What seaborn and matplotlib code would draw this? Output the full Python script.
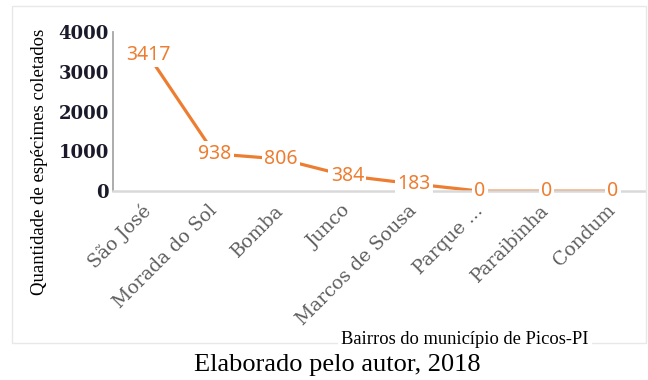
import matplotlib
matplotlib.use("Agg")
import matplotlib.pyplot as plt
from matplotlib.patches import Rectangle
import seaborn as sns
import pandas as pd

# data
bairros = ["São José", "Morada do Sol", "Bomba", "Junco", "Marcos de Sousa",
           "Parque ...", "Paraibinha", "Condum"]
quantidade = [3417, 938, 806, 384, 183, 0, 0, 0]
y_ticks = [0, 1000, 2000, 3000, 4000]

orange = "#ED7D31"

sns.set_theme(style="white")
plt.rcParams["font.family"] = ["DejaVu Sans"]

df = pd.DataFrame({"pos": range(len(bairros)), "bairro": bairros, "qtd": quantidade})

fig = plt.figure(figsize=(6.48, 3.80), dpi=100)
fig.patch.set_facecolor("white")
ax = fig.add_axes([0.1744, 0.497, 0.8206, 0.419])

sns.lineplot(data=df, x="pos", y="qtd", sort=False, color=orange, linewidth=2.3, ax=ax, zorder=2)

# value labels on the points, white box hides the line under them
for i, v in enumerate(quantidade):
    ax.text(i, v, str(v), ha="center", va="center", color=orange, fontsize=14,
            family="Noto Sans", fontweight="semibold", zorder=5,
            bbox=dict(boxstyle="square,pad=0.12", fc="white", ec="none"))

ax.set_xlim(-0.53, 7.48)
ax.set_ylim(0, 4000)
ax.set_yticks(y_ticks)
ax.set_yticklabels([str(t) for t in y_ticks], family="DejaVu Serif", fontweight="bold",
                   fontsize=13, color="#1a1a2a")
ax.set_xticks(range(len(bairros)))
ax.set_xticklabels(bairros, rotation=45, ha="right", va="center", rotation_mode="anchor",
                   family="DejaVu Serif", fontsize=13.5, color="#5f5f5f")
ax.tick_params(axis="both", length=0, pad=3)
ax.tick_params(axis="x", pad=12)
ax.set_xlabel("")
ax.set_ylabel("")

for s in ["top", "right"]:
    ax.spines[s].set_visible(False)
ax.spines["left"].set_color("#a6a6a6")
ax.spines["left"].set_linewidth(1.3)
ax.spines["bottom"].set_color("#d9d9d9")
ax.spines["bottom"].set_linewidth(1.8)

# light frame around the chart
fig.patches.append(Rectangle((12 / 648, 0.097), 634 / 648, 0.887, transform=fig.transFigure,
                             fill=False, edgecolor="#e8e8e8", linewidth=1.0, zorder=0))

fig.text(40 / 648, 0.574, "Quantidade de espécimes coletados", rotation=90, ha="center",
         va="center", family="Liberation Serif", fontsize=13.5, color="black")
fig.text(465 / 648, 1 - 340 / 380, "Bairros do município de Picos-PI", ha="center", va="center",
         family="Liberation Serif", fontsize=13.3, color="black",
         bbox=dict(boxstyle="square,pad=0.2", fc="white", ec="none"))
fig.text(337 / 648, 1 - 365 / 380, "Elaborado pelo autor, 2018", ha="center", va="center",
         family="Liberation Serif", fontsize=19, color="black")

fig.savefig("out.png", dpi=100, facecolor="white")
